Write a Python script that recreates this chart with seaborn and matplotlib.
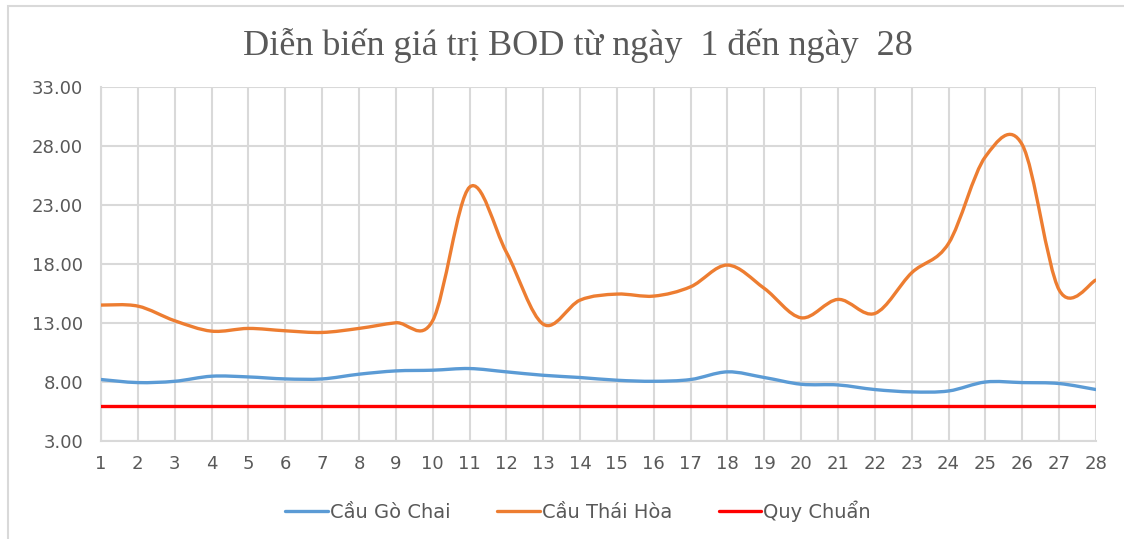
import numpy as np
import pandas as pd
import matplotlib
matplotlib.use("Agg")
import matplotlib.pyplot as plt
from matplotlib.path import Path
from matplotlib.patches import PathPatch, Rectangle
from matplotlib.lines import Line2D
import seaborn as sns

# values
days = list(range(1, 29))
go_chai = [8.21, 7.95, 8.06, 8.49, 8.43, 8.26, 8.26, 8.66, 8.94, 9.00,
           9.14, 8.86, 8.57, 8.38, 8.15, 8.06, 8.21, 8.86, 8.38, 7.81,
           7.75, 7.36, 7.16, 7.24, 8.00, 7.95, 7.87, 7.36]
thai_hoa = [14.52, 14.43, 13.19, 12.31, 12.54, 12.34, 12.20, 12.54, 13.02, 13.20,
            24.51, 19.00, 12.90, 14.94, 15.45, 15.28, 16.07, 17.91, 15.93, 13.44,
            15.00, 13.81, 17.26, 19.75, 27.10, 28.10, 15.80, 16.64]
quy_chuan = [6.0] * 28
series_names = ["Cầu Gò Chai", "Cầu Thái Hòa", "Quy Chuẩn"]
colors = ["#5B9BD5", "#ED7D31", "#FF0000"]
yticks = [3, 8, 13, 18, 23, 28, 33]

W, H = 1124, 539

sns.set_theme(style="white")
plt.rcParams["font.family"] = ["DejaVu Sans"]

df = pd.DataFrame({"day": days, "value": quy_chuan})

fig = plt.figure(figsize=(W / 100, H / 100), dpi=100)
ax = fig.add_axes([101 / W, 1 - 441 / H, (1096 - 101) / W, (441 - 87) / H])

# outer chart border (light gray)
fig.patches.append(Rectangle((8 / W, -0.05), 1.2, 1 - 6 / H + 0.05, transform=fig.transFigure,
                             fill=False, edgecolor="#d9d9d9", linewidth=1.5, zorder=0))


def smooth_path(x, y):
    # Excel-style smoothed line as cubic Bezier segments through the data
    pts = np.column_stack([x, y]).astype(float)
    n = len(pts)
    verts = [pts[0]]
    codes = [Path.MOVETO]
    for i in range(n - 1):
        p0 = pts[i - 1] if i > 0 else pts[i]
        p1, p2 = pts[i], pts[i + 1]
        p3 = pts[i + 2] if i + 2 < n else pts[i + 1]
        c1 = p1 + (p2 - p0) / 6.0
        c2 = p2 - (p3 - p1) / 6.0
        verts += [c1, c2, p2]
        codes += [Path.CURVE4] * 3
    return Path(verts, codes)


for vals, col in zip([go_chai, thai_hoa], colors[:2]):
    ax.add_patch(PathPatch(smooth_path(days, vals), fill=False, edgecolor=col,
                           linewidth=2.4, capstyle="round", joinstyle="round", zorder=3))

sns.lineplot(data=df, x="day", y="value", ax=ax, color=colors[2], linewidth=2.4, zorder=3)

ax.set_xlim(1, 28)
ax.set_ylim(3, 33)
ax.set_xticks(days)
ax.set_xticklabels([str(d) for d in days])
ax.set_yticks(yticks)
ax.set_yticklabels([f"{v:.2f}" for v in yticks])
ax.set_xlabel("")
ax.set_ylabel("")
ax.grid(True, color="#d9d9d9", linewidth=1.5)
ax.set_axisbelow(True)
for s in ["top", "right"]:
    ax.spines[s].set_visible(False)
for s in ["left", "bottom"]:
    ax.spines[s].set_color("#d9d9d9")
    ax.spines[s].set_linewidth(1.5)
ax.tick_params(axis="both", length=0, labelsize=13, labelcolor="#595959")
ax.tick_params(axis="y", pad=13)
ax.tick_params(axis="x", pad=10)

fig.text(578 / W, 1 - 45 / H, "Diễn biến giá trị BOD từ ngày  1 đến ngày  28",
         ha="center", va="center", fontsize=26, color="#595959",
         family=["Liberation Serif", "DejaVu Serif"])

handles = [Line2D([0], [0], color=c, linewidth=2.4) for c in colors]
fig.legend(handles, series_names, loc="center", bbox_to_anchor=(578 / W, 1 - 511 / H),
           ncol=3, frameon=False, fontsize=14, labelcolor="#595959",
           handlelength=2.2, handletextpad=0.1, columnspacing=2.4)

fig.savefig("out.png", dpi=100)
